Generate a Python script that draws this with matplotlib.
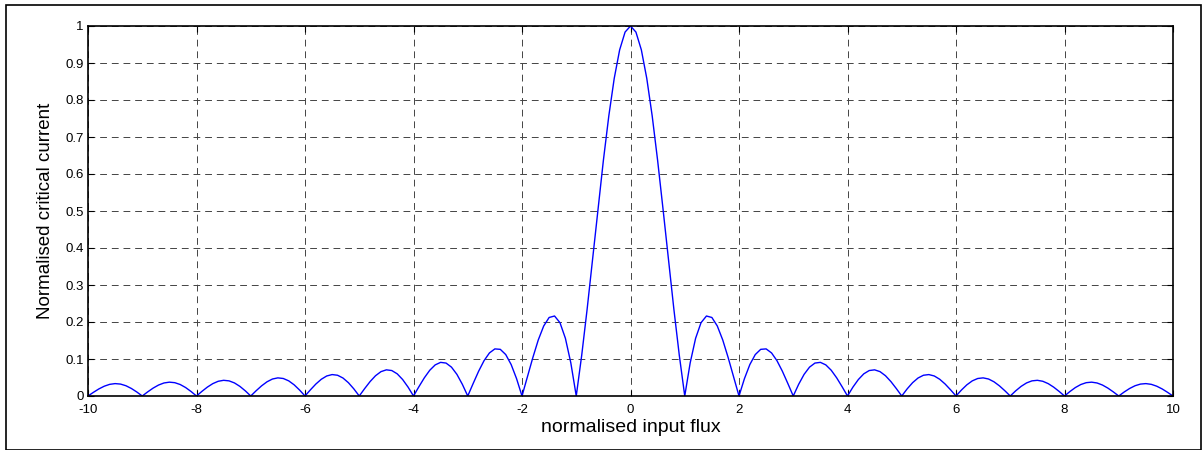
import numpy as np
import matplotlib
matplotlib.use("Agg")
import matplotlib.pyplot as plt
from matplotlib.patches import Rectangle

# normalised critical current read at input flux 0, 0.1, ..., 10 (curve is symmetric about 0)
flux_right = np.round(np.arange(0, 101) * 0.1, 1)
current_right = [
    1.0, 0.9836, 0.9355, 0.8584, 0.7568, 0.6366, 0.5046, 0.3679, 0.2339, 0.1093,
    0.0, 0.0894, 0.1559, 0.1981, 0.2162, 0.2122, 0.1892, 0.1515, 0.1039, 0.0518,
    0.0, 0.0468, 0.0850, 0.1120, 0.1261, 0.1273, 0.1164, 0.0954, 0.0668, 0.0339,
    0.0, 0.0317, 0.0585, 0.0780, 0.0890, 0.0909, 0.0841, 0.0696, 0.0492, 0.0252,
    0.0, 0.0240, 0.0445, 0.0599, 0.0688, 0.0707, 0.0658, 0.0548, 0.0390, 0.0201,
    0.0, 0.0193, 0.0360, 0.0486, 0.0561, 0.0579, 0.0541, 0.0452, 0.0323, 0.0167,
    0.0, 0.0161, 0.0302, 0.0409, 0.0473, 0.0490, 0.0459, 0.0384, 0.0275, 0.0143,
    0.0, 0.0139, 0.0260, 0.0353, 0.0409, 0.0424, 0.0398, 0.0334, 0.0240, 0.0125,
    0.0, 0.0121, 0.0228, 0.0310, 0.0360, 0.0374, 0.0352, 0.0296, 0.0213, 0.0111,
    0.0, 0.0108, 0.0203, 0.0277, 0.0322, 0.0335, 0.0315, 0.0265, 0.0191, 0.0099,
    0.0,
]
flux = np.concatenate([-flux_right[:0:-1], flux_right])
current = np.concatenate([np.array(current_right)[:0:-1], current_right])

x_ticks = [-10, -8, -6, -4, -2, 0, 2, 4, 6, 8, 10]
y_ticks = [0, 0.1, 0.2, 0.3, 0.4, 0.5, 0.6, 0.7, 0.8, 0.9, 1]
y_labels = ["0", "0.1", "0.2", "0.3", "0.4", "0.5", "0.6", "0.7", "0.8", "0.9", "1"]

plt.rcParams["font.family"] = ["Liberation Sans", "DejaVu Sans"]

W, H = 1202, 450
fig = plt.figure(figsize=(W / 100, H / 100), dpi=100)
ax = fig.add_axes([88 / W, 1 - 396 / H, (1173 - 88) / W, (396 - 26) / H])

ax.plot(flux, current, color="#0000ff", linewidth=1)

ax.set_xlim(-10, 10)
ax.set_ylim(0, 1)
ax.set_xticks(x_ticks)
ax.set_xticklabels([str(t) for t in x_ticks])
ax.set_yticks(y_ticks)
ax.set_yticklabels(y_labels)
ax.tick_params(direction="in", length=4, width=0.8, labelsize=9.5,
               top=True, right=True)
ax.tick_params(axis="x", pad=5.5)
ax.tick_params(axis="y", pad=3)
ax.grid(True, color="#444444", linestyle=(0, (7, 5)), linewidth=0.7)
for s in ax.spines.values():
    s.set_linewidth(1.2)

ax.set_xlabel("normalised input flux", fontsize=14, labelpad=2.5)
ax.set_ylabel("Normalised critical current", fontsize=13.5, labelpad=8)

# outer frame around the whole picture
fig.patches.append(Rectangle((6 / W, 0.5 / H), (W - 7) / W, (H - 5) / H,
                             transform=fig.transFigure, fill=False,
                             edgecolor="black", linewidth=1.2))

fig.savefig("out.png", dpi=100)
